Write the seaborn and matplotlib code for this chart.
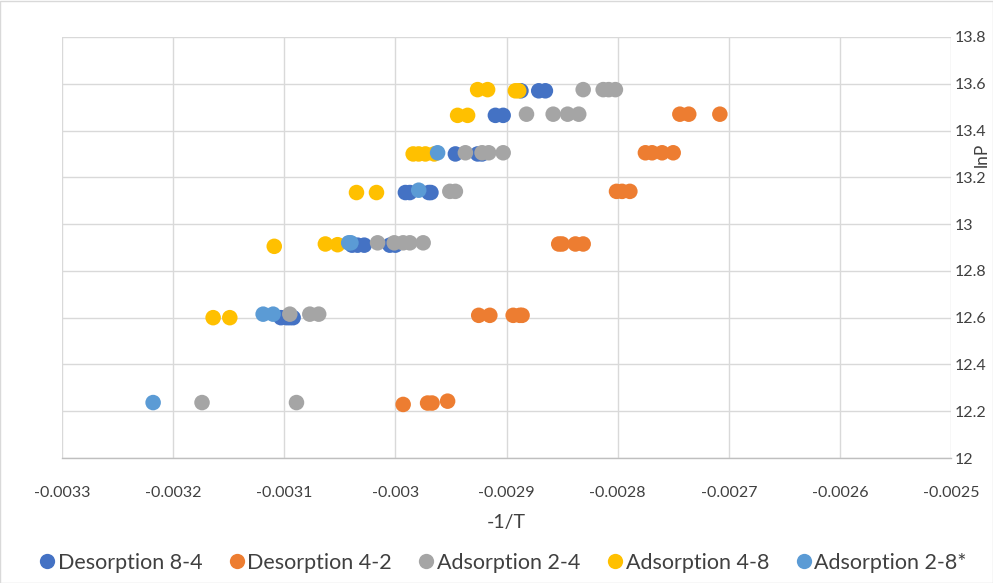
import numpy as np
import pandas as pd
import matplotlib
matplotlib.use("Agg")
import matplotlib.pyplot as plt
from matplotlib.lines import Line2D
from matplotlib.patches import Rectangle
import seaborn as sns

sns.set_style("white")
plt.rcParams["font.family"] = ["Lato", "DejaVu Sans"]

series_names = ["Desorption 8-4", "Desorption 4-2", "Adsorption 2-4",
                "Adsorption 4-8", "Adsorption 2-8*"]
colors = ["#4472C4", "#ED7D31", "#A5A5A5", "#FFC000", "#5B9BD5"]

# Desorption 8-4
des84_x = [-0.002887, -0.002871, -0.002865,
           -0.002910, -0.002903,
           -0.002946, -0.002926, -0.002922,
           -0.002991, -0.002987, -0.002970, -0.002968,
           -0.003039, -0.003034, -0.003028, -0.003005, -0.003000,
           -0.003103, -0.003098, -0.003095, -0.003092]
des84_y = [13.57, 13.57, 13.57,
           13.465, 13.465,
           13.30, 13.30, 13.30,
           13.135, 13.135, 13.135, 13.135,
           12.91, 12.91, 12.91, 12.91, 12.91,
           12.60, 12.60, 12.60, 12.60]

# Desorption 4-2
des42_x = [-0.002744, -0.002736, -0.002708,
           -0.002775, -0.002769, -0.002760, -0.002750,
           -0.002801, -0.002796, -0.002789,
           -0.002853, -0.002850, -0.002838, -0.002831,
           -0.002925, -0.002915, -0.002894, -0.002888, -0.002886,
           -0.002993, -0.002971, -0.002967, -0.002953]
des42_y = [13.47, 13.47, 13.47,
           13.305, 13.305, 13.305, 13.305,
           13.14, 13.14, 13.14,
           12.915, 12.915, 12.915, 12.915,
           12.61, 12.61, 12.61, 12.61, 12.61,
           12.229, 12.235, 12.235, 12.243]

# Adsorption 2-4
ads24_x = [-0.002831, -0.002813, -0.002808, -0.002802,
           -0.002882, -0.002858, -0.002845, -0.002835,
           -0.002937, -0.002922, -0.002916, -0.002903,
           -0.002951, -0.002946,
           -0.003016, -0.003001, -0.002993, -0.002987, -0.002975,
           -0.003095, -0.003077, -0.003069,
           -0.003174, -0.003089]
ads24_y = [13.575, 13.575, 13.575, 13.575,
           13.47, 13.47, 13.47, 13.47,
           13.305, 13.305, 13.305, 13.305,
           13.14, 13.14,
           12.92, 12.92, 12.92, 12.92, 12.92,
           12.615, 12.615, 12.615,
           12.237, 12.237]

# Adsorption 4-8
ads48_x = [-0.002926, -0.002917, -0.002892, -0.002889,
           -0.002944, -0.002935,
           -0.002984, -0.002979, -0.002973, -0.002965,
           -0.003035, -0.003017,
           -0.003109, -0.003063, -0.003052,
           -0.003164, -0.003149]
ads48_y = [13.575, 13.575, 13.57, 13.57,
           13.465, 13.465,
           13.30, 13.30, 13.30, 13.30,
           13.135, 13.135,
           12.905, 12.915, 12.912,
           12.60, 12.60]

# Adsorption 2-8*
ads28_x = [-0.002962, -0.002979, -0.003042, -0.003040,
           -0.003119, -0.003110, -0.003218]
ads28_y = [13.305, 13.145, 12.92, 12.92, 12.615, 12.615, 12.237]

x_ticks = [-0.0033, -0.0032, -0.0031, -0.0030, -0.0029,
           -0.0028, -0.0027, -0.0026, -0.0025]
x_labels = ["-0.0033", "-0.0032", "-0.0031", "-0.003", "-0.0029",
            "-0.0028", "-0.0027", "-0.0026", "-0.0025"]
y_ticks = [12.0, 12.2, 12.4, 12.6, 12.8, 13.0, 13.2, 13.4, 13.6, 13.8]
y_labels = ["12", "12.2", "12.4", "12.6", "12.8", "13", "13.2", "13.4", "13.6", "13.8"]

frames = []
for name, xs, ys in zip(series_names,
                        [des84_x, des42_x, ads24_x, ads48_x, ads28_x],
                        [des84_y, des42_y, ads24_y, ads48_y, ads28_y]):
    frames.append(pd.DataFrame({"x": xs, "y": ys, "series": name}))
df = pd.concat(frames, ignore_index=True)

fig = plt.figure(figsize=(9.93, 5.83), dpi=100)
ax = fig.add_axes([62 / 993, 1 - 458 / 583, (951 - 62) / 993, (458 - 37) / 583])

sns.scatterplot(ax=ax, data=df, x="x", y="y", hue="series",
                hue_order=series_names, palette=colors,
                s=125, linewidth=0, alpha=1, legend=False, zorder=3)

ax.set_xlim(-0.0033, -0.0025)
ax.set_ylim(12, 13.8)
ax.set_xticks(x_ticks)
ax.set_xticklabels(x_labels)
ax.set_yticks(y_ticks)
ax.set_yticklabels(y_labels)
ax.grid(True, color="#D9D9D9", linewidth=1)
ax.set_axisbelow(True)
for side in ["left", "right", "top"]:
    ax.spines[side].set_visible(False)
ax.spines["bottom"].set_color("#BFBFBF")
ax.spines["bottom"].set_linewidth(1)

ax.yaxis.tick_right()
ax.yaxis.set_label_position("right")
ax.tick_params(axis="both", length=0, labelsize=11.5, colors="#404040")
ax.tick_params(axis="x", pad=20)
ax.tick_params(axis="y", pad=3)

ax.set_xlabel("-1/T", fontsize=14, color="#404040", labelpad=10)
ax.set_ylabel("lnP", fontsize=12.5, color="#404040")
ax.yaxis.set_label_coords(1.026, 0.72)

handles = [Line2D([0], [0], marker="o", linestyle="", markersize=11,
                  markerfacecolor=c, markeredgewidth=0) for c in colors]
fig.legend(handles, series_names, loc="center", ncol=5,
           bbox_to_anchor=(0.505, 1 - 563 / 583), frameon=False,
           fontsize=15.5, handletextpad=0.0, columnspacing=1.1,
           handlelength=1.0, labelcolor="#404040")

fig.add_artist(Rectangle((0.0005, 0.0008), 0.999, 0.998, transform=fig.transFigure,
                         fill=False, edgecolor="#D9D9D9", linewidth=1))

fig.savefig("out.png", dpi=100)
